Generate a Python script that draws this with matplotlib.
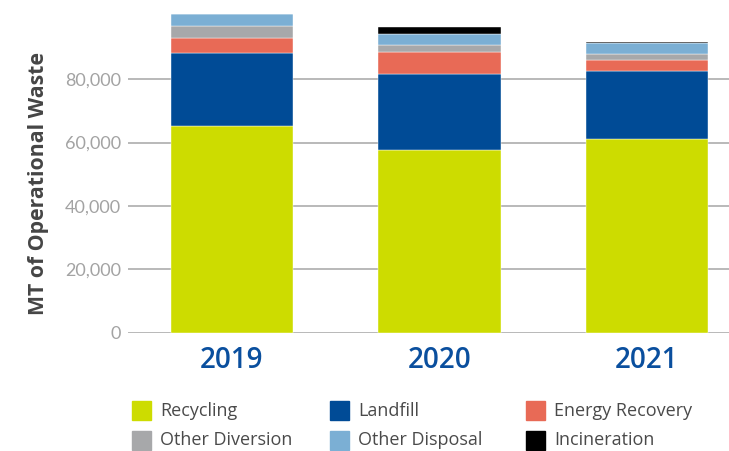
import numpy as np
import matplotlib.pyplot as plt
from matplotlib.patches import Rectangle

# waste totals per year, metric tonnes
years = ["2019", "2020", "2021"]
recycling = [65300, 57500, 61000]
landfill = [23100, 24100, 21450]
energy_recovery = [4550, 7050, 3500]
other_diversion = [3800, 2100, 1900]
other_disposal = [3700, 3500, 3600]
incineration = [200, 2100, 300]

series_names = ["Recycling", "Landfill", "Energy Recovery",
                "Other Diversion", "Other Disposal", "Incineration"]
series_values = [recycling, landfill, energy_recovery,
                 other_diversion, other_disposal, incineration]
colors = ["#cddc00", "#004b96", "#e86a56", "#a7a8aa", "#7bafd4", "#000000"]
yticks = [0, 20000, 40000, 60000, 80000]

fig = plt.figure(figsize=(7.29, 4.51), dpi=100)
ax = fig.add_axes([128 / 729, (451 - 332.5) / 451, 1 - 128 / 729, 323 / 451])

x = np.arange(len(years))
bottom = np.zeros(len(years))
for name, vals, c in zip(series_names, series_values, colors):
    ax.bar(x, vals, width=0.59, bottom=bottom, color=c, label=name,
           edgecolor="white", linewidth=0.3, zorder=3)
    bottom += np.array(vals)

ax.set_xlim(-0.5, 2.395)
ax.set_ylim(0, 102000)
ax.set_yticks(yticks)
ax.set_yticklabels([f"{v:,}" for v in yticks], fontsize=13, color="#a3a3a3",
                   family="Lato")
ax.tick_params(axis="y", length=0, pad=5)
ax.tick_params(axis="x", length=0, pad=10)
ax.set_xticks(x)
ax.set_xticklabels(years, fontsize=20, color="#0a4f9e", family="Open Sans",
                   fontweight="semibold")
ax.yaxis.grid(True, color="#b3b3b3", linewidth=1.3, zorder=0)
for s in ax.spines.values():
    s.set_visible(False)

ax.set_ylabel("MT of Operational Waste", fontsize=15.3, fontweight="bold",
              color="#454545", family="Open Sans")
ax.yaxis.set_label_coords(-0.132, 0.462)

# legend laid out by hand in three columns
col_x = [132, 330, 526]
row_y = [410.5, 440]
for i, (name, c) in enumerate(zip(series_names, colors)):
    cx = col_x[i % 3]
    cy = row_y[i // 3]
    fig.add_artist(Rectangle((cx / 729, (451 - cy - 9.5) / 451), 19 / 729, 19 / 451,
                             transform=fig.transFigure, color=c))
    fig.text((cx + 28) / 729, (451 - cy) / 451, name, fontsize=13,
             color="#4a4a4a", va="center", ha="left", family="Open Sans")

fig.savefig("out.png", dpi=100)
